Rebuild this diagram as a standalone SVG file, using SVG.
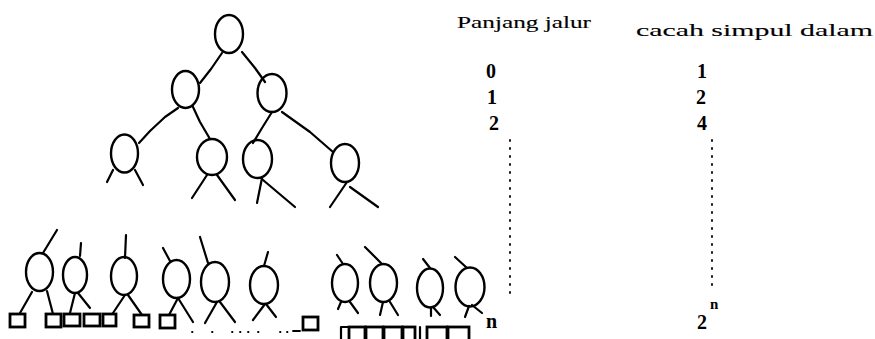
<svg xmlns="http://www.w3.org/2000/svg" width="875" height="339" viewBox="0 0 875 339">
  <style>
    .node { fill: none; stroke: #000; stroke-width: 2.4; }
    .leaf { fill: #fff; stroke: #000; stroke-width: 2.8; }
    .edge { fill: none; stroke: #000; stroke-width: 2.2; stroke-linecap: round; stroke-linejoin: round; }
    .dots { fill: none; stroke: #000; stroke-width: 1.8; stroke-linecap: round; }
    text { fill: #000; }
    .hdr { stroke: #000; stroke-width: 0.12; }
  </style>
  <rect width="875" height="339" fill="#fff"/>

  <!-- connectors -->
  <g id="connectors" class="edge">
    <!-- level 0 to level 1 -->
    <polyline points="222,53 211,69 200,83"/>
    <polyline points="242,52 255,68 265,82"/>
    <!-- level 1 to level 2 -->
    <polyline points="178,108 165,117 150,131 139,143"/>
    <polyline points="193,107 200,122 210,139"/>
    <polyline points="272,112 262,128 253,143"/>
    <polyline points="282,112 310,132 333,152"/>
    <!-- stubs below level 2 -->
    <line x1="113" y1="170" x2="107" y2="182"/>
    <line x1="135" y1="170" x2="143" y2="185"/>
    <line x1="207" y1="175" x2="192" y2="198"/>
    <line x1="217" y1="175" x2="235" y2="200"/>
    <line x1="262" y1="178" x2="257" y2="203"/>
    <line x1="263" y1="180" x2="295" y2="207"/>
    <line x1="347" y1="182" x2="330" y2="207"/>
    <line x1="350" y1="187" x2="378" y2="207"/>
    <!-- stubs above bottom row -->
    <line x1="43" y1="253" x2="57" y2="230"/>
    <line x1="80" y1="256" x2="81" y2="243"/>
    <line x1="125" y1="258" x2="126" y2="235"/>
    <line x1="170" y1="261" x2="163" y2="248"/>
    <line x1="208" y1="263" x2="200" y2="237"/>
    <line x1="264" y1="266" x2="268" y2="252"/>
    <line x1="343" y1="264" x2="337" y2="255"/>
    <line x1="382" y1="264" x2="365" y2="247"/>
    <line x1="430" y1="268" x2="423" y2="259"/>
    <line x1="467" y1="268" x2="455" y2="257"/>
    <!-- stubs below bottom row -->
    <line x1="32" y1="292" x2="20" y2="313"/>
    <line x1="47" y1="291" x2="53" y2="314"/>
    <line x1="75" y1="293" x2="70" y2="313"/>
    <line x1="78" y1="293" x2="90" y2="308"/>
    <line x1="125" y1="295" x2="113" y2="313"/>
    <line x1="128" y1="295" x2="142" y2="315"/>
    <line x1="178" y1="298" x2="169" y2="315"/>
    <line x1="178" y1="298" x2="193" y2="322"/>
    <line x1="217" y1="302" x2="205" y2="323"/>
    <line x1="220" y1="302" x2="235" y2="322"/>
    <line x1="265" y1="304" x2="253" y2="320"/>
    <line x1="266" y1="304" x2="276" y2="317"/>
    <line x1="341" y1="302" x2="338" y2="309"/>
    <line x1="350" y1="302" x2="358" y2="313"/>
    <line x1="383" y1="302" x2="380" y2="315"/>
    <line x1="390" y1="302" x2="398" y2="315"/>
    <line x1="431" y1="308" x2="431" y2="316"/>
    <line x1="433" y1="307" x2="440" y2="315"/>
    <line x1="469" y1="306" x2="465" y2="317"/>
    <line x1="472" y1="305" x2="482" y2="313"/>
  </g>

  <!-- internal nodes -->
  <g id="n-root"><ellipse class="node" cx="229" cy="34" rx="14" ry="19"/></g>
  <g id="n-l1a"><ellipse class="node" cx="185.5" cy="89.5" rx="13.5" ry="18.5"/></g>
  <g id="n-l1b"><ellipse class="node" cx="272" cy="93" rx="14.5" ry="19"/></g>
  <g id="n-l2a"><ellipse class="node" cx="124.5" cy="153.5" rx="13.5" ry="19"/></g>
  <g id="n-l2b"><ellipse class="node" cx="212" cy="157" rx="15" ry="18"/></g>
  <g id="n-l2c"><ellipse class="node" cx="257.5" cy="159" rx="14.5" ry="19"/></g>
  <g id="n-l2d"><ellipse class="node" cx="345" cy="163" rx="14" ry="19"/></g>

  <!-- bottom level nodes -->
  <g id="n-b1"><ellipse class="node" cx="39.5" cy="272" rx="13.5" ry="19"/></g>
  <g id="n-b2"><ellipse class="node" cx="75" cy="275" rx="12" ry="18"/></g>
  <g id="n-b3"><ellipse class="node" cx="124" cy="276" rx="13" ry="19"/></g>
  <g id="n-b4"><ellipse class="node" cx="176.5" cy="279" rx="13.5" ry="19"/></g>
  <g id="n-b5"><ellipse class="node" cx="215" cy="282" rx="14" ry="20"/></g>
  <g id="n-b6"><ellipse class="node" cx="264" cy="285" rx="14" ry="19"/></g>
  <g id="n-b7"><ellipse class="node" cx="345" cy="283" rx="13" ry="19"/></g>
  <g id="n-b8"><ellipse class="node" cx="383.5" cy="283" rx="13.5" ry="19"/></g>
  <g id="n-b9"><ellipse class="node" cx="430" cy="288" rx="13" ry="19.5"/></g>
  <g id="n-b10"><ellipse class="node" cx="470" cy="287" rx="14.5" ry="19.5"/></g>

  <!-- external (leaf) nodes -->
  <g id="leaves-left">
    <rect class="leaf" x="10" y="314" width="15" height="13"/>
    <rect class="leaf" x="46" y="314" width="15" height="13"/>
    <rect class="leaf" x="64" y="314" width="16" height="12"/>
    <rect class="leaf" x="84" y="314" width="16" height="12"/>
    <rect class="leaf" x="103" y="314" width="13" height="12"/>
    <rect class="leaf" x="134" y="315" width="15" height="12"/>
    <rect class="leaf" x="160" y="315" width="15" height="13"/>
  </g>
  <g id="leaves-right">
    <rect class="leaf" x="303" y="317" width="15" height="13"/>
    <path class="edge" d="M341,340 V327 H348" stroke-width="2.8"/>
    <rect class="leaf" x="349" y="327" width="16" height="14"/>
    <rect class="leaf" x="366" y="327" width="17" height="14"/>
    <rect class="leaf" x="384" y="327" width="18" height="14"/>
    <rect class="leaf" x="403" y="327" width="12" height="14"/>
    <line class="edge" x1="420" y1="327" x2="420" y2="340" stroke-width="2.8"/>
    <rect class="leaf" x="427" y="327" width="20" height="14"/>
    <rect class="leaf" x="448" y="327" width="21" height="14"/>
  </g>
  <g id="leaf-dots" class="dots">
    <line x1="192" y1="332" x2="192.5" y2="332"/>
    <line x1="212" y1="332" x2="212.5" y2="332"/>
    <line x1="232" y1="332" x2="232.5" y2="332"/>
    <line x1="240" y1="332" x2="240.5" y2="332"/>
    <line x1="248" y1="332" x2="248.5" y2="332"/>
    <line x1="258" y1="332" x2="258.5" y2="332"/>
    <line x1="280" y1="332" x2="280.5" y2="332"/>
    <line x1="287" y1="332" x2="287.5" y2="332"/>
    <line x1="293" y1="331" x2="300" y2="331"/>
  </g>

  <!-- table: path length vs number of internal nodes -->
  <g id="col-path" font-family="Liberation Serif, Times New Roman, serif">
    <text class="hdr" x="457" y="28" font-size="17" textLength="134" lengthAdjust="spacingAndGlyphs">Panjang jalur</text>
    <g font-size="20" font-weight="bold">
      <text x="486" y="78">0</text>
      <text x="487" y="104">1</text>
      <text x="489" y="130">2</text>
      <text x="486" y="328">n</text>
    </g>
    <line class="dots" x1="510" y1="140" x2="510" y2="296" stroke-dasharray="1 7"/>
  </g>
  <g id="col-count" font-family="Liberation Serif, Times New Roman, serif">
    <text class="hdr" x="636" y="36" font-size="17" textLength="237" lengthAdjust="spacingAndGlyphs">cacah simpul dalam</text>
    <g font-size="20" font-weight="bold">
      <text x="697" y="78">1</text>
      <text x="696" y="104">2</text>
      <text x="697" y="130">4</text>
      <text x="697" y="329">2</text>
      <text x="710" y="309" font-size="15">n</text>
    </g>
    <line class="dots" x1="712" y1="140" x2="712" y2="290" stroke-dasharray="1 7"/>
  </g>
</svg>
